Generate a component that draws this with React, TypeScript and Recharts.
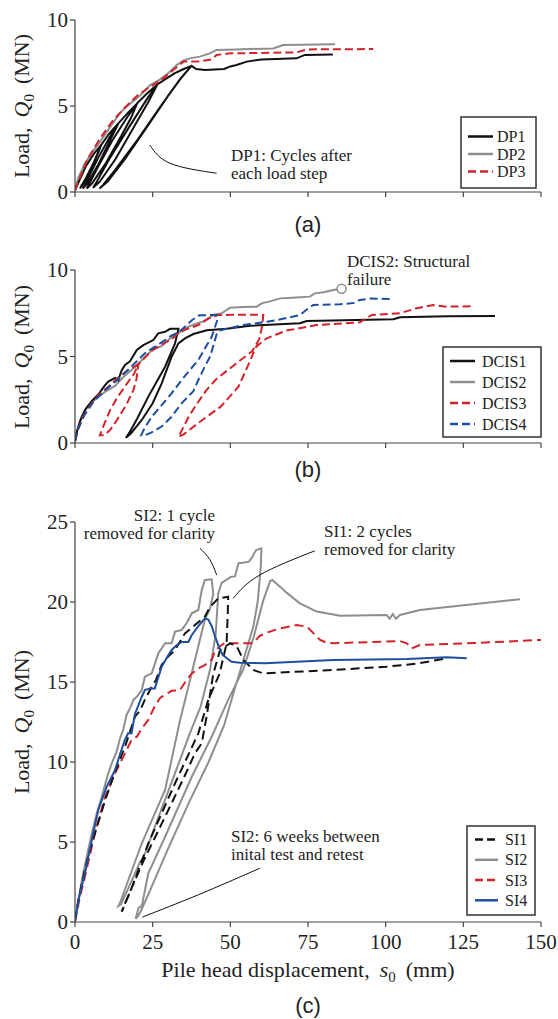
import React from 'react';
import { LineChart, Line, XAxis, YAxis, ReferenceDot } from 'recharts';

type P = [number, number];

// shared axis ticks
const xTicks = [0, 25, 50, 75, 100, 125, 150];
const yTicksAB = [0, 5, 10];
const yTicksC = [0, 5, 10, 15, 20, 25];

// ---- (a) driven piles: [s0 (mm), Q0 (MN)]
const dp1: P[] = [
  [0, 0.1], [1.5, 0.7], [3.5, 1.5], [6, 2.2], [8.5, 2.75],
  [6, 1.7], [3.5, 0.8], [2, 0.35], [1.6, 0.2], [3, 0.6], [5.5, 1.5], [7.5, 2.3], [8.5, 2.75],
  [11, 3.4], [14, 4.0],
  [11.5, 3.3], [7.5, 2.0], [4.5, 0.9], [2.8, 0.3], [2.5, 0.2], [4, 0.5], [7.5, 1.6], [11, 2.9], [14, 4.0],
  [17, 4.6], [20, 5.15],
  [17, 4.4], [12, 3.0], [7.5, 1.5], [4.5, 0.45], [3.8, 0.2], [5.5, 0.5], [10, 1.7], [15, 3.3], [18, 4.3], [20, 5.15],
  [23, 5.7], [26.5, 6.25],
  [23.5, 5.5], [17.5, 3.8], [11, 1.9], [7, 0.6], [5.8, 0.25], [8, 0.6], [13, 1.9], [19, 3.8], [23.5, 5.2], [26.5, 6.25],
  [29, 6.55], [32, 6.9], [35, 7.15], [37.5, 7.33],
  [34.5, 6.7], [28, 5.1], [20, 3.0], [13, 1.3], [9, 0.4], [7.9, 0.2], [10.5, 0.6], [16, 1.9], [24, 4.0], [30, 5.6], [34, 6.6], [37.5, 7.33],
  [39, 7.15], [42, 7.1], [48, 7.15], [50, 7.3], [52, 7.38], [55.3, 7.58], [60, 7.7], [71.3, 7.77], [74, 7.97], [83, 8.0],
];
const dp2: P[] = [
  [0, 0.15], [1, 0.8], [3, 1.6], [5.5, 2.3], [8, 2.9], [11, 3.7], [14.5, 4.6], [17.5, 5.1], [20.9, 5.6],
  [24.1, 6.2], [27.4, 6.55], [30, 6.9], [32.7, 7.38], [35, 7.65], [37, 7.77], [40.2, 7.87], [43.4, 8.06],
  [45.6, 8.26], [52, 8.29], [63.8, 8.35], [67, 8.55], [83.7, 8.59],
];
const dp3: P[] = [
  [0, 0.1], [1.5, 0.8], [4, 1.9], [8, 3.1], [12, 4.1], [16, 4.9], [20, 5.6], [24, 6.1], [27.4, 6.45],
  [30, 6.85], [32.7, 7.25], [34.9, 7.58], [39.2, 7.58], [44, 7.71], [45.6, 7.97], [49.9, 8.06],
  [71.3, 8.12], [74.6, 8.29], [96, 8.31],
];
const leaderA: P[] = [[24.1, 2.73], [30.6, 1.67], [45.6, 1.09]];

// ---- (b) DCIS piles
const dcis1: P[] = [
  [0, 0.08], [0.7, 0.7], [1.5, 1.2], [3.2, 1.91], [5.5, 2.45], [7.5, 2.8], [9.5, 3.3], [10.7, 3.55],
  [12.9, 3.76], [13.9, 3.62], [15, 4.2], [16.1, 4.51], [17.7, 4.72], [19.9, 5.38], [22, 5.66], [25.2, 5.95],
  [26.8, 6.34], [29, 6.43], [30.6, 6.6], [33.3, 6.6],
  [32.2, 5.76], [29, 4.41], [23.6, 2.68], [20, 1.4], [17.5, 0.6], [16.4, 0.3],
  [18, 0.55], [21.5, 1.33], [25, 2.3], [27.9, 3.45], [31.1, 4.99], [33.3, 5.76], [35.4, 6.05], [38.1, 6.3],
  [42.4, 6.52], [48.8, 6.6], [56.3, 6.78], [72.4, 6.92], [74.6, 7.05], [102.5, 7.15], [104.6, 7.27],
  [120, 7.33], [135.2, 7.34],
];
const dcis2: P[] = [
  [0, 0.1], [0.8, 0.8], [2, 1.5], [4, 2.1], [7.5, 2.68], [10, 3.0], [12.9, 3.3], [15.5, 3.8], [18.2, 4.22],
  [21, 4.7], [23.6, 5.18], [25.5, 5.45], [27.9, 5.6], [30, 5.95], [32.2, 6.24], [34.5, 6.5], [36.5, 6.72],
  [39, 6.9], [41.8, 7.05], [44.5, 7.4], [47.2, 7.5], [49.9, 7.82], [54, 7.86], [58.5, 7.88], [60.1, 8.07],
  [63, 8.2], [66, 8.36], [70, 8.4], [75.6, 8.46], [77.2, 8.65], [80, 8.72], [83.1, 8.84], [85.8, 8.92],
];
const dcis3: P[] = [
  [0, 0.1], [1, 0.8], [2.5, 1.5], [5, 2.2], [8, 2.85], [11, 3.3], [14, 3.8], [17, 4.2], [20.4, 4.55],
  [19, 4.0], [16.6, 3.4], [13.5, 2.6], [11.3, 1.9], [9.2, 1.0], [8, 0.45],
  [9.5, 0.45], [11.5, 0.8], [13.4, 1.3], [16.5, 2.2], [18.8, 3.06], [19.8, 3.7], [20.4, 4.55],
  [22, 4.85], [24.5, 5.3], [27.5, 5.65], [31.1, 6.0], [33, 6.3], [35.4, 6.55], [39.7, 6.82], [42.9, 7.2],
  [46.1, 7.4], [55, 7.42], [60.6, 7.4],
  [60.3, 6.8], [59.3, 6.0], [57, 5.3], [53, 4.75], [49.2, 4.22], [45.5, 3.7], [42.3, 3.06], [39, 2.2],
  [36.6, 1.52], [34, 0.6], [33.3, 0.35],
  [35, 0.5], [40, 1.2], [46.9, 2.1], [52.6, 3.25], [56, 4.6], [58.3, 5.57], [61.7, 6.05], [68.1, 6.5],
  [77.8, 6.82], [91.7, 6.98], [95.5, 7.4], [104.6, 7.5], [110, 7.79], [115.3, 7.98], [119.6, 7.88], [128.2, 7.9],
];
const dcis4: P[] = [
  [0, 0.1], [1, 0.8], [3, 1.6], [6, 2.4], [10, 3.1], [14, 3.7], [18, 4.4], [22.5, 5.18], [26, 5.6],
  [29, 5.95], [31, 6.2], [33.3, 6.4], [35.4, 6.72], [37.6, 7.1], [40, 7.38], [45.6, 7.4],
  [46, 7.2], [44, 6.14], [39.7, 4.8], [35, 3.8], [31.1, 2.87], [27.5, 2.1], [24.7, 1.52], [22.5, 0.9], [21.3, 0.45],
  [22.5, 0.45], [24.5, 0.6], [27.9, 0.95], [31, 1.5], [34.3, 2.29], [38.1, 3.0], [39.7, 3.64], [42, 4.5],
  [43.5, 5.0], [44.5, 5.6], [45.6, 6.3], [46.5, 6.5], [48.8, 6.6], [54.2, 6.82], [59.5, 6.95], [65, 7.1],
  [72.4, 7.4], [74.5, 7.7], [76.7, 7.98], [85.3, 8.02], [90, 8.1], [91.7, 8.27], [95, 8.35], [101.9, 8.32],
];

// ---- (c) SI piles
const si1: P[] = [
  [0, 0.1], [1, 1.3], [2.7, 2.83], [4.5, 4.3], [6.4, 5.54], [9.7, 7.6], [12.5, 9.2], [16.1, 10.96],
  [19.3, 12.83], [20.9, 13.2], [22.5, 13.9], [24.7, 14.7], [26, 15.1], [27.9, 16.06], [30, 16.6], [32.2, 17.0],
  [35.4, 18.04], [38.6, 18.56], [41.8, 19.08], [43.5, 19.7], [46.1, 20.23], [49.3, 20.33],
  [49.2, 19.5], [48.8, 17.4], [46.5, 15.5], [42.9, 13.88], [39.7, 11.79], [32.2, 8.67], [23.6, 4.92], [18, 2.0], [15, 0.64],
  [15.5, 0.8], [16.1, 1.17], [22, 3.8], [29, 6.58], [35, 9.0], [38.6, 10.54], [40.8, 11.17], [42.5, 13.0],
  [44.5, 15.5], [46.7, 17.0], [49.9, 17.42], [52, 17.25], [54.2, 16.38], [57.4, 15.75], [60.6, 15.54],
  [83.1, 15.75], [100.3, 15.96], [110, 16.15], [119.6, 16.48],
];
const si2: P[] = [
  [0, 0.1], [1, 1.2], [2.2, 2.62], [3.8, 4.1], [5.4, 5.54], [7, 6.8], [8.6, 7.83], [10.7, 9.29], [12, 10.0],
  [13.4, 10.64], [14.5, 11.48], [15.5, 12.0], [16.6, 12.94], [17.8, 13.4], [18.8, 13.88], [20, 14.1],
  [21.5, 14.5], [22.5, 15.33], [24.7, 15.54], [26.8, 16.79], [29, 17.42], [31.1, 17.42], [32.2, 18.15],
  [34.3, 18.25], [36, 18.7], [37.6, 19.29], [39.7, 19.5], [40.8, 20.75], [41.8, 21.38], [44, 21.42],
  [44.5, 20.5], [43.5, 19.6], [41.8, 18.9], [37.5, 15.5], [33.8, 12.6], [29, 8.25], [21.5, 4.92], [16, 2.0],
  [14.5, 1.2], [14, 1.0],
  [14.8, 1.1], [15.5, 1.4], [19, 2.9], [21, 3.8], [22, 4.0], [26, 6.1], [32, 9.2], [37, 11.8], [40.5, 13.5],
  [43.5, 15.8], [45.3, 18.0], [46.1, 20.54], [47.2, 21.2], [50.3, 21.58], [51.5, 21.6], [52.6, 22.42],
  [54, 22.45], [56, 22.52], [57, 22.8], [58.3, 23.25], [60, 23.35],
  [59.8, 22.2], [58.8, 20.0], [57.4, 18.46], [54.2, 16.38], [51, 14.3], [48, 12.3], [43, 10.0], [37, 7.6],
  [30, 4.6], [24, 1.9], [21, 0.6], [20, 0.3],
  [19.5, 0.2], [20.5, 0.9], [21.5, 1.0], [23.6, 3.04], [29, 5.33], [37.6, 9.08], [44, 11.58], [49.3, 13.88],
  [54.2, 15.8], [57.5, 17.8], [60.6, 20.1], [62.8, 21.3], [63.5, 21.38], [66, 20.96], [68, 20.6], [72.4, 19.92],
  [77.8, 19.4], [85.3, 19.14], [100.3, 19.19], [101.3, 18.95], [102.3, 19.25], [103.3, 18.95], [104.6, 19.19],
  [111, 19.5], [143.2, 20.17],
];
const si3: P[] = [
  [0, 0], [1.5, 1.5], [3.2, 2.83], [6.4, 5.54], [9.7, 7.83], [12.9, 9.29], [16.1, 10.54], [18.2, 11.38],
  [19.9, 11.58], [21.5, 12.1], [23.6, 12.63], [25.7, 13.5], [27.4, 14.0], [29, 14.2], [31.1, 14.45],
  [33.8, 14.5], [35.5, 15.0], [37.6, 15.54], [40.2, 15.9], [41.8, 16.06], [44, 16.4], [45, 16.9], [46.7, 17.25],
  [48, 17.4], [51, 17.42], [57.2, 17.42], [59.5, 17.88], [62, 18.1], [66, 18.35], [71.3, 18.56], [74.6, 18.46],
  [76.5, 18.1], [78.9, 17.63], [81, 17.45], [83.1, 17.42], [104.6, 17.56], [106.8, 17.42], [108.4, 17.1],
  [111, 17.31], [130, 17.45], [150, 17.63],
];
const si4: P[] = [
  [0, 0.12], [1.5, 1.7], [3.2, 3.04], [5.4, 5.12], [7.5, 7.0], [10.2, 8.46], [12.9, 9.5], [14.5, 10.5],
  [16.1, 11.4], [17.1, 11.8], [18.2, 11.8], [19.3, 13.0], [21.5, 14.08], [22.5, 14.5], [24.1, 14.6],
  [25.7, 14.6], [27.9, 15.96], [29.5, 16.5], [31.1, 17.0], [32.7, 17.3], [34.3, 17.5], [36.5, 17.5],
  [37.6, 17.94], [39.7, 18.5], [41.8, 18.98], [42.9, 18.9], [44, 18.5], [45.1, 17.83], [46.5, 17.1],
  [47.5, 16.7], [48.8, 16.5], [50.4, 16.27], [53.1, 16.21], [61.2, 16.17], [83.1, 16.38], [106.8, 16.44],
  [119.6, 16.54], [126.1, 16.48],
];
const leaderC1: P[] = [[40.2, 23.36], [43.4, 22.65], [45.6, 21.69]];
const leaderC2: P[] = [[77.2, 23.2], [59.5, 21.69], [50.9, 20.23]];
const leaderC3: P[] = [[59.5, 3.36], [39.7, 1.7], [21.7, 0.31]];

const BLACK = '#111111';
const GRAY = '#8e8e8e';
const RED = '#d1232a';
const BLUE = '#1d4f9e';
const AXIS = '#444444';
const SERIF = '"Liberation Serif", "Times New Roman", serif';
const SANS = '"Liberation Sans", Arial, sans-serif';

const pts = (a: P[]) => a.map(([x, y]) => ({ x, y }));

const series = (key: string, data: P[], color: string, dash?: string, width = 2) => (
  <Line
    key={key}
    name={key}
    data={pts(data)}
    dataKey="y"
    type="linear"
    stroke={color}
    strokeWidth={width}
    strokeDasharray={dash}
    dot={false}
    activeDot={false}
    isAnimationActive={false}
  />
);

const leader = (key: string, data: P[]) => (
  <Line
    key={key}
    data={pts(data)}
    dataKey="y"
    type="natural"
    stroke={BLACK}
    strokeWidth={1}
    dot={false}
    activeDot={false}
    isAnimationActive={false}
  />
);

const axes = (yMax: number, yTicks: number[], xHeight: number, labels: boolean) => [
  <XAxis
    key="x"
    type="number"
    dataKey="x"
    domain={[0, 150]}
    ticks={xTicks}
    allowDataOverflow
    height={xHeight}
    tickSize={5}
    tickMargin={7}
    axisLine={{ stroke: AXIS, strokeWidth: 1.2 }}
    tickLine={{ stroke: AXIS, strokeWidth: 1.2 }}
    tick={{ fontSize: 21, fontFamily: SERIF, fill: '#222' }}
    tickFormatter={labels ? (v: number) => String(v) : () => ''}
  />,
  <YAxis
    key="y"
    type="number"
    domain={[0, yMax]}
    ticks={yTicks}
    allowDataOverflow
    width={75}
    tickSize={5}
    axisLine={{ stroke: AXIS, strokeWidth: 1.2 }}
    tickLine={{ stroke: AXIS, strokeWidth: 1.2 }}
    tick={{ fontSize: 21, fontFamily: SERIF, fill: '#222' }}
  />,
];

const YTitle = ({ cy }: { cy: number }) => (
  <text transform={`translate(29,${cy}) rotate(-90)`} textAnchor="middle" fontSize={22} fontFamily={SERIF} fill="#222">
    Load,
    <tspan dx={10} fontStyle="italic">Q</tspan>
    <tspan fontSize={15} dy={5}>0</tspan>
    <tspan dy={-5} dx={10}>(MN)</tspan>
  </text>
);

type Item = { label: string; color: string; dash?: string };

const LegendBox = ({ x, y, w, h, rows, lineX, textX, items }: {
  x: number; y: number; w: number; h: number; rows: number[]; lineX: [number, number]; textX: number; items: Item[];
}) => (
  <g>
    <rect x={x} y={y} width={w} height={h} fill="#fff" stroke="#333" strokeWidth={1.5} />
    {items.map((it, i) => (
      <g key={it.label}>
        <line x1={lineX[0]} x2={lineX[1]} y1={rows[i]} y2={rows[i]} stroke={it.color} strokeWidth={2.5} strokeDasharray={it.dash} />
        <text x={textX} y={rows[i] + 5.5} fontSize={16} fontFamily={SERIF} fill="#222">{it.label}</text>
      </g>
    ))}
  </g>
);

const Note = ({ x, y, lines, anchor = 'start' }: { x: number; y: number; lines: string[]; anchor?: string }) => (
  <text x={x} y={y} fontSize={17} fontFamily={SERIF} fill="#222" textAnchor={anchor as any}>
    {lines.map((l, i) => (
      <tspan key={i} x={x} dy={i === 0 ? 0 : 17.7}>{l}</tspan>
    ))}
  </text>
);

export default function App() {
  const m = (top: number, bottom = 0) => ({ top, right: 17, bottom, left: 0 });
  const last = dcis2[dcis2.length - 1];
  return (
    <div style={{ position: 'absolute', left: 0, top: 0, width: 558, height: 1019, background: '#fff' }}>
      <div style={{ position: 'absolute', left: 0, top: 0 }}>
        <LineChart width={558} height={210} margin={m(20)}>
          {axes(10, yTicksAB, 18, false)}
          {series('DP2', dp2, GRAY)}
          {series('DP1', dp1, BLACK)}
          {series('DP3', dp3, RED, '8 4')}
          {leader('la', leaderA)}
        </LineChart>
      </div>
      <div style={{ position: 'absolute', left: 0, top: 250 }}>
        <LineChart width={558} height={210} margin={m(20)}>
          {axes(10, yTicksAB, 17, false)}
          {series('DCIS2', dcis2, GRAY)}
          {series('DCIS1', dcis1, BLACK)}
          {series('DCIS3', dcis3, RED, '8 4')}
          {series('DCIS4', dcis4, BLUE, '8 4')}
          <ReferenceDot x={last[0]} y={last[1]} r={4.5} fill="#fff" stroke={GRAY} strokeWidth={1.5} />
        </LineChart>
      </div>
      <div style={{ position: 'absolute', left: 0, top: 500 }}>
        <LineChart width={558} height={470} margin={m(22, 18)}>
          {axes(25, yTicksC, 30, true)}
          {series('SI2', si2, GRAY)}
          {series('SI3', si3, RED, '9 5')}
          {series('SI1', si1, BLACK, '9 5')}
          {series('SI4', si4, BLUE)}
          {leader('l1', leaderC1)}
          {leader('l2', leaderC2)}
          {leader('l3', leaderC3)}
        </LineChart>
      </div>

      <svg width={558} height={1019} style={{ position: 'absolute', left: 0, top: 0, pointerEvents: 'none' }}>
        <YTitle cy={106} />
        <YTitle cy={357} />
        <YTitle cy={722} />

        <Note x={231} y={161} lines={['DP1: Cycles after', 'each load step']} />
        <Note x={347} y={267} lines={['DCIS2: Structural', 'failure']} />
        <Note x={215} y={521} anchor="end" lines={['SI2: 1 cycle', 'removed for clarity']} />
        <Note x={324} y={537} lines={['SI1: 2 cycles', 'removed for clarity']} />
        <Note x={231} y={842} lines={['SI2: 6 weeks between', 'inital test and retest']} />

        <LegendBox x={461} y={117} w={75} h={71} rows={[136.5, 154, 171.5]} lineX={[468, 493]} textX={497}
          items={[{ label: 'DP1', color: BLACK }, { label: 'DP2', color: GRAY }, { label: 'DP3', color: RED, dash: '8 4' }]} />
        <LegendBox x={443} y={347} w={98} h={90} rows={[361, 382, 403, 424]} lineX={[450, 475]} textX={482}
          items={[{ label: 'DCIS1', color: BLACK }, { label: 'DCIS2', color: GRAY }, { label: 'DCIS3', color: RED, dash: '8 4' }, { label: 'DCIS4', color: BLUE, dash: '8 4' }]} />
        <LegendBox x={467} y={826} w={68} h={89} rows={[839.5, 859.8, 880, 900.3]} lineX={[475, 498]} textX={505}
          items={[{ label: 'SI1', color: BLACK, dash: '8 4' }, { label: 'SI2', color: GRAY }, { label: 'SI3', color: RED, dash: '8 4' }, { label: 'SI4', color: BLUE }]} />

        <text x={308} y={977} textAnchor="middle" fontSize={22} fontFamily={SERIF} fill="#222">
          Pile head displacement,
          <tspan dx={10} fontStyle="italic">s</tspan>
          <tspan fontSize={15} dy={5}>0</tspan>
          <tspan dy={-5} dx={10}>(mm)</tspan>
        </text>

        <text x={308} y={232} textAnchor="middle" fontSize={22} fontFamily={SANS} fill="#222">(a)</text>
        <text x={308} y={477} textAnchor="middle" fontSize={22} fontFamily={SANS} fill="#222">(b)</text>
        <text x={308} y={1013} textAnchor="middle" fontSize={22} fontFamily={SANS} fill="#222">(c)</text>
      </svg>
    </div>
  );
}
